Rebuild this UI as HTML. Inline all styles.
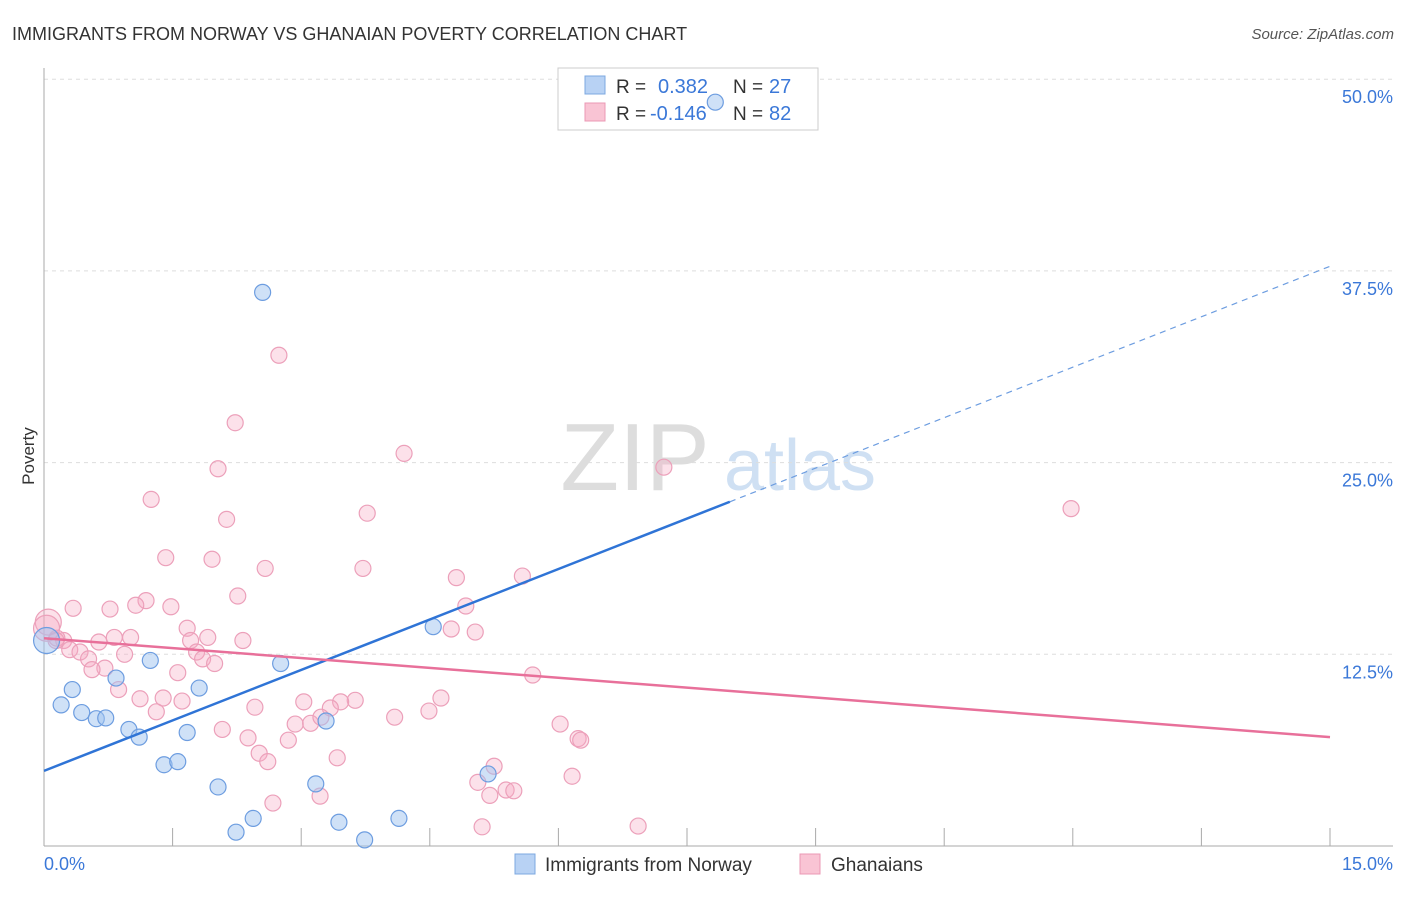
<!DOCTYPE html>
<html><head><meta charset="utf-8"><style>
body{margin:0;background:#fff;font-family:"Liberation Sans",sans-serif;}
svg text{font-family:"Liberation Sans",sans-serif;}
</style></head><body>
<svg id="c" width="1406" height="892">
<text x="12" y="40" font-size="18" fill="#333">IMMIGRANTS FROM NORWAY VS GHANAIAN POVERTY CORRELATION CHART</text>
<text x="1394" y="39" font-size="15" fill="#555" font-style="italic" text-anchor="end">Source: ZipAtlas.com</text>
<text x="34" y="456" font-size="17" fill="#333" transform="rotate(-90 34 456)" text-anchor="middle">Poverty</text>
<g>
<text x="635" y="490" font-size="96" fill="#ddd" font-family="Liberation Serif" text-anchor="middle">ZIP</text>
<text x="800" y="490" font-size="72" fill="#cfe0f3" text-anchor="middle">atlas</text>
</g>
<g id="grid"></g>
<g>
<rect x="558" y="68" width="260" height="62" fill="#fff" stroke="#ccc"/>
<rect x="585" y="76" width="20" height="18" fill="#b8d2f4" stroke="#7da8e0"/>
<rect x="585" y="103" width="20" height="18" fill="#f9c4d4" stroke="#eb98b4"/>
<text x="616" y="93" font-size="19" fill="#333">R =</text><text x="658" y="93" font-size="20" fill="#3b78d8">0.382</text>
<text x="733" y="93" font-size="19" fill="#333">N =</text><text x="769" y="93" font-size="20" fill="#3b78d8">27</text>
<text x="616" y="120" font-size="19" fill="#333">R =</text><text x="650" y="120" font-size="20" fill="#3b78d8">-0.146</text>
<text x="733" y="120" font-size="19" fill="#333">N =</text><text x="769" y="120" font-size="20" fill="#3b78d8">82</text>
</g>
<g id="marks"></g>
<g>
<rect x="515" y="854" width="20" height="20" fill="#b8d2f4" stroke="#7da8e0"/>
<text x="545" y="871" font-size="19" fill="#333">Immigrants from Norway</text>
<rect x="800" y="854" width="20" height="20" fill="#f9c4d4" stroke="#eb98b4"/>
<text x="831" y="871" font-size="19" fill="#333">Ghanaians</text>
</g>
</svg>
<script>
const blueX=[2.55,7.83,0.03,1.24,0.84,0.33,1.81,0.20,0.44,0.61,0.72,0.99,1.11,1.67,2.76,4.54,3.29,1.40,1.56,2.03,3.17,5.18,2.24,2.44,3.44,3.74,4.14];
const blueY=[36.1,48.5,13.4,12.1,10.95,10.2,10.3,9.2,8.7,8.3,8.35,7.6,7.1,7.4,11.9,14.3,8.15,5.3,5.5,3.85,4.05,4.7,0.9,1.8,1.55,0.4,1.8];
const pinkX=[2.74,2.23,4.20,2.03,7.23,1.25,3.77,2.13,11.98,1.42,1.96,2.58,3.72,4.81,5.58,2.26,1.19,0.34,0.77,1.07,1.48,4.92,1.67,1.91,4.75,5.03,2.32,1.71,1.01,0.82,0.64,0.23,0.05,0.15,0.30,0.42,0.52,0.94,1.78,1.85,0.71,0.56,1.56,5.70,0.87,1.12,1.39,1.61,3.03,4.63,3.63,3.46,3.34,2.46,1.31,2.93,3.11,3.23,4.09,4.49,2.08,6.02,2.38,2.85,6.23,6.26,2.51,2.61,3.42,5.25,6.16,5.06,5.39,5.48,5.20,3.22,2.67,5.11,6.93,0.03,0.14,1.99];
const pinkY=[32.0,27.6,25.6,24.6,24.7,22.6,21.7,21.3,22.0,18.8,18.7,18.1,18.1,17.5,17.6,16.3,16.0,15.5,15.45,15.7,15.6,15.65,14.2,13.6,14.15,13.95,13.4,13.4,13.6,13.6,13.3,13.4,14.6,13.55,12.8,12.65,12.2,12.5,12.65,12.2,11.6,11.5,11.3,11.15,10.2,9.6,9.65,9.45,9.4,9.65,9.5,9.4,9.0,9.05,8.75,7.95,8.0,8.4,8.4,8.8,7.6,7.95,7.05,6.9,7.0,6.9,6.05,5.5,5.75,5.2,4.55,4.15,3.65,3.6,3.3,3.25,2.8,1.25,1.3,14.2,13.4,11.9];
const blueTrend=[4.9,37.8];
const blueSolidEnd=[8.0];
const pinkTrend=[13.55,7.1];
const yTicks=[12.5,25,37.5,50];
const yTickLabels=["12.5%","25.0%","37.5%","50.0%"];
const xTickVals=[0,1.5,3,4.5,6,7.5,9,10.5,12,13.5,15];
const xLabels=["0.0%","15.0%"];
const NS="http://www.w3.org/2000/svg";
const X=v=>44+v/15*1286, Y=v=>846-v/12.5*191.7;
function mk(t,a,p){const e=document.createElementNS(NS,t);for(const k in a)e.setAttribute(k,a[k]);p.appendChild(e);return e;}
const g=document.getElementById('grid'), m=document.getElementById('marks');
yTicks.forEach((t,i)=>{
 const l=mk('line',{x1:44,x2:1393,y1:Y(t),y2:Y(t),stroke:'#ddd','stroke-dasharray':'4,4'},g);
 
 
 const tx=mk('text',{x:1393,y:Y(t)+24,'font-size':18,fill:'#3b78d8','text-anchor':'end'},g);tx.textContent=yTickLabels[i];
 
 
});
const ax=mk('line',{x1:44,x2:44,y1:68,y2:846,stroke:'#aaa'},g);


const bx=mk('line',{x1:44,x2:1393,y1:846,y2:846,stroke:'#aaa'},g);


xTickVals.forEach(v=>{const t=mk('line',{x1:X(v),x2:X(v),y1:828,y2:846,stroke:'#aaa'},g);
 
 });
[[0,44,'start'],[1,1393,'end']].forEach(([i,x,a])=>{const t=mk('text',{x:x,y:870,'font-size':18,fill:'#3b78d8','text-anchor':a},g);t.textContent=xLabels[i];
 
 });
pinkX.forEach((x,i)=>{const big=x<0.1;const c=mk('circle',{cx:X(x),cy:Y(pinkY[i]),r:big?13:8,fill:'rgba(246,170,196,0.35)',stroke:'#eca0ba','stroke-width':1.2},m);
 
 });
blueX.forEach((x,i)=>{const big=x<0.1;const c=mk('circle',{cx:X(x),cy:Y(blueY[i]),r:big?13:8,fill:'rgba(160,196,240,0.5)',stroke:'#6d9de0','stroke-width':1.2},m);
 
 });
const by=x=>blueTrend[0]+(blueTrend[1]-blueTrend[0])*x/15;
const b1=mk('line',{x1:X(0),y1:Y(by(0)),x2:X(blueSolidEnd[0]),y2:Y(by(blueSolidEnd[0])),stroke:'#2f74d6','stroke-width':2.5},m);


const b2=mk('line',{x1:X(blueSolidEnd[0]),y1:Y(by(blueSolidEnd[0])),x2:X(15),y2:Y(by(15)),stroke:'#6d9de0','stroke-width':1.2,'stroke-dasharray':'6,5'},m);


const p1=mk('line',{x1:X(0),y1:Y(pinkTrend[0]),x2:X(15),y2:Y(pinkTrend[1]),stroke:'#e8709a','stroke-width':2.5},m);


</script>
</body></html>
